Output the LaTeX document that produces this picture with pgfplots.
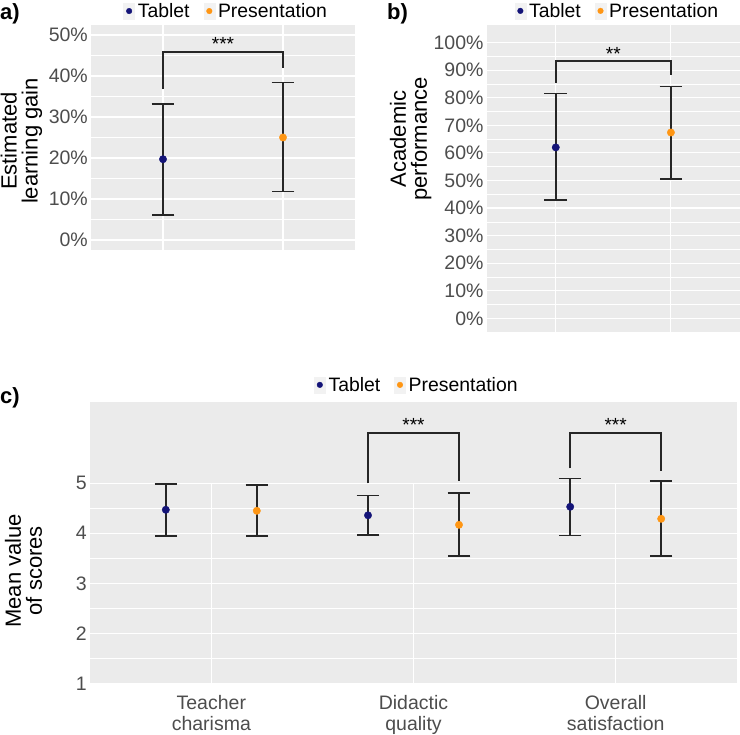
\documentclass[border=0pt]{standalone}
\usepackage{pgfplots}
\pgfplotsset{compat=1.18}
\usepackage{fontspec}
\setmainfont{Liberation Sans}
\definecolor{ggbg}{HTML}{EBEBEB}
\definecolor{ggkey}{HTML}{F2F2F2}
\definecolor{ggtext}{HTML}{4D4D4D}
\definecolor{ggline}{HTML}{262626}
\definecolor{tabc}{RGB}{20,20,120}
\definecolor{presc}{RGB}{255,150,20}

\tikzset{sig/.style={ggline, line width=1.5pt}}
\pgfplotsset{
  gg/.style={
    scale only axis, clip=false,
    axis background/.style={fill=ggbg},
    axis line style={draw=none},
    major tick length=0pt, minor tick length=0pt,
    tick style={draw=none},
    major grid style={white, line width=1.1pt},
    minor grid style={white, line width=0.55pt},
    tick label style={font=\fontsize{19.5}{21}\selectfont, text=ggtext},
    yticklabel style={inner sep=0pt, xshift=-3pt},
    /pgf/number format/assume math mode=true,
    legend columns=2,
    legend style={draw=none, fill=none, inner sep=0pt,
      font=\fontsize{19.4}{20}\selectfont,
      nodes={inner xsep=3pt, inner ysep=0pt},
      /tikz/every even column/.append style={column sep=11pt}},
    legend image code/.code={
      \fill[ggkey] (0pt,-8pt) rectangle (11pt,8pt);
      \path[only marks, mark=*, mark size=2.8pt] plot coordinates {(5.5pt,0pt)};},
  },
  grp/.style={only marks, mark=*, mark size=3.7pt, color=#1,
    error bars/.cd, y dir=both, y explicit,
    error bar style={ggline, line width=1.5pt},
    error mark options={ggline, line width=1.5pt, mark size=11.3pt, rotate=90}},
}

\begin{document}
\begin{tikzpicture}
\useasboundingbox (0,0) rectangle (740pt,735pt);

% a) learning gain
\begin{axis}[gg, at={(91pt,485pt)}, anchor=south west, width=264pt, height=225pt,
  xmin=0.4, xmax=2.6, ymin=-2.44, ymax=52.44,
  xtick={1,2}, xticklabels={}, xmajorgrids, ymajorgrids, yminorgrids,
  ytick={0,10,...,50}, yticklabels={0\%,10\%,20\%,30\%,40\%,50\%},
  minor ytick={5,15,...,45},
  legend style={at={(0.514,1.062)}, anchor=center}]
\addplot[grp=tabc] coordinates {(1,19.7) += (0,13.5) -= (0,13.6)};
\addlegendentry{Tablet}
\addplot[grp=presc] coordinates {(2,25.0) += (0,13.4) -= (0,13.2)};
\addlegendentry{Presentation}
\draw[sig] (axis cs:1,36.8) -- (axis cs:1,45.9) -- (axis cs:2,45.9) -- (axis cs:2,41.9);
\node[anchor=base, font=\fontsize{19}{19}\selectfont, yshift=1pt] at (axis cs:1.5,45.9) {***};
\end{axis}

% b) academic performance
\begin{axis}[gg, at={(486.7pt,403.3pt)}, anchor=south west, width=253.3pt, height=306.7pt,
  xmin=0.4, xmax=2.6, ymin=-4.86, ymax=106.4,
  xtick={1,2}, xticklabels={}, xmajorgrids, ymajorgrids, yminorgrids,
  ytick={0,10,...,100},
  yticklabels={0\%,10\%,20\%,30\%,40\%,50\%,60\%,70\%,80\%,90\%,100\%},
  minor ytick={5,15,...,95},
  legend style={at={(0.518,1.046)}, anchor=center}]
\addplot[grp=tabc] coordinates {(1,62.0) += (0,19.6) -= (0,19.1)};
\addlegendentry{Tablet}
\addplot[grp=presc] coordinates {(2,67.4) += (0,16.6) -= (0,16.9)};
\addlegendentry{Presentation}
\draw[sig] (axis cs:1,85.2) -- (axis cs:1,93.3) -- (axis cs:2,93.3) -- (axis cs:2,88.3);
\node[anchor=base, font=\fontsize{19}{19}\selectfont, yshift=1pt] at (axis cs:1.5,93.3) {**};
\end{axis}

% c) scores
\begin{axis}[gg, at={(90pt,51.7pt)}, anchor=south west, width=647pt, height=281pt,
  xmin=0.4, xmax=3.6, ymin=1, ymax=6.62,
  xtick={1,2,3},
  xticklabels={Teacher\\charisma, Didactic\\quality, Overall\\satisfaction},
  xticklabel style={align=center, inner sep=0pt, yshift=-12pt},
  ytick={1,...,5}, minor ytick={1.5,2.5,3.5,4.5}, ymajorgrids, yminorgrids,
  legend style={at={(0.506,1.062)}, anchor=center}]
\draw[white, line width=1.1pt] (axis cs:1,1) -- (axis cs:1,5);
\draw[white, line width=1.1pt] (axis cs:2,1) -- (axis cs:2,5);
\draw[white, line width=1.1pt] (axis cs:3,1) -- (axis cs:3,5);
\addplot[grp=tabc] coordinates {
  (0.775,4.47) += (0,0.52) -= (0,0.52)
  (1.775,4.36) += (0,0.40) -= (0,0.39)
  (2.775,4.53) += (0,0.57) -= (0,0.57)
};
\addlegendentry{Tablet}
\addplot[grp=presc] coordinates {
  (1.225,4.45) += (0,0.52) -= (0,0.50)
  (2.225,4.17) += (0,0.64) -= (0,0.62)
  (3.225,4.29) += (0,0.76) -= (0,0.74)
};
\addlegendentry{Presentation}
\draw[sig] (axis cs:1.775,5.0) -- (axis cs:1.775,6.01) -- (axis cs:2.225,6.01) -- (axis cs:2.225,5.05);
\node[anchor=base, font=\fontsize{19}{19}\selectfont, yshift=1.5pt] at (axis cs:2,6.01) {***};
\draw[sig] (axis cs:2.775,5.3) -- (axis cs:2.775,6.01) -- (axis cs:3.225,6.01) -- (axis cs:3.225,5.25);
\node[anchor=base, font=\fontsize{19}{19}\selectfont, yshift=1.5pt] at (axis cs:3,6.01) {***};
\end{axis}

% axis titles and panel letters
\node[rotate=90, align=center, font=\fontsize{22}{21}\selectfont, inner sep=0pt] at (21.5pt,594pt) {Estimated\\learning gain};
\node[rotate=90, align=center, font=\fontsize{22}{21}\selectfont, inner sep=0pt] at (410.7pt,596pt) {Academic\\performance};
\node[rotate=90, align=center, font=\fontsize{22}{21}\selectfont, inner sep=0pt] at (23.5pt,164.3pt) {Mean value\\of scores};
\node[anchor=base west, font=\bfseries\fontsize{22}{22}\selectfont, inner sep=0pt] at (0pt,715pt) {a)};
\node[anchor=base west, font=\bfseries\fontsize{22}{22}\selectfont, inner sep=0pt] at (387pt,715pt) {b)};
\node[anchor=base west, font=\bfseries\fontsize{22}{22}\selectfont, inner sep=0pt] at (0pt,331pt) {c)};
\end{tikzpicture}
\end{document}
